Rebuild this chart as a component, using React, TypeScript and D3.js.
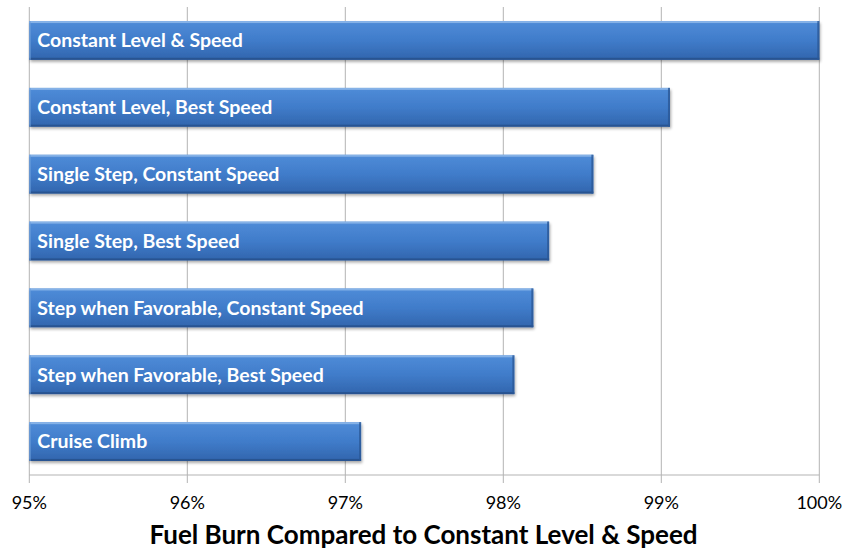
import React from "react";
import * as d3 from "d3";

const categories = [
  "Constant Level & Speed",
  "Constant Level, Best Speed",
  "Single Step, Constant Speed",
  "Single Step, Best Speed",
  "Step when Favorable, Constant Speed",
  "Step when Favorable, Best Speed",
  "Cruise Climb",
];
const values = [100, 99.055, 98.57, 98.29, 98.19, 98.07, 97.1];
const tickValues = [95, 96, 97, 98, 99, 100];
const axisTitle = "Fuel Burn Compared to Constant Level & Speed";

const W = 845;
const H = 550;
const FONT = "Lato, 'Open Sans', sans-serif";

export default function App() {
  const x = d3.scaleLinear().domain([95, 100]).range([29.3, 819.3]);
  const y = d3
    .scaleBand<string>()
    .domain(categories)
    .range([7, 475])
    .paddingInner(0.42)
    .paddingOuter(0.21);
  const axisY = 475;
  const bw = y.bandwidth();

  return (
    <svg
      width={W}
      height={H}
      style={{ position: "absolute", left: 0, top: 0, background: "#fff" }}
    >
      <defs>
        <linearGradient id="barGrad" x1="0" y1="0" x2="0" y2="1">
          <stop offset="0" stopColor="#4f8cd8" />
          <stop offset="0.5" stopColor="#407cca" />
          <stop offset="1" stopColor="#3165ad" />
        </linearGradient>
        <filter id="shadow" x="-5%" y="-20%" width="110%" height="160%">
          <feGaussianBlur in="SourceAlpha" stdDeviation="1.5" />
          <feOffset dx="1" dy="2" result="b" />
          <feComponentTransfer>
            <feFuncA type="linear" slope="0.35" />
          </feComponentTransfer>
          <feMerge>
            <feMergeNode />
            <feMergeNode in="SourceGraphic" />
          </feMerge>
        </filter>
      </defs>

      {/* gridlines */}
      {tickValues.map((t) => (
        <line
          key={"g" + t}
          x1={x(t)}
          x2={x(t)}
          y1={7}
          y2={axisY + 8}
          stroke="#b3b3b3"
          strokeWidth={1}
        />
      ))}
      {/* axis line */}
      <line
        x1={x(95)}
        x2={x(100)}
        y1={axisY}
        y2={axisY}
        stroke="#b3b3b3"
        strokeWidth={1}
      />

      {/* bars */}
      {categories.map((c, i) => {
        const y0 = y(c)!;
        const x0 = x(95);
        const x1 = x(values[i]);
        const w = x1 - x0;
        return (
          <g key={c}>
            <rect
              x={x0}
              y={y0}
              width={w}
              height={bw}
              fill="url(#barGrad)"
              filter="url(#shadow)"
            />
            <rect x={x0} y={y0} width={w} height={2} fill="#8fb8ea" opacity={0.85} />
            <rect x={x0} y={y0 + bw - 2} width={w} height={2} fill="#264f8a" opacity={0.8} />
            <rect x={x1 - 2} y={y0} width={2} height={bw} fill="#2a5796" opacity={0.8} />
            <rect x={x0} y={y0} width={1.5} height={bw} fill="#6d9fdd" opacity={0.7} />
            <text
              x={x0 + 8}
              y={y0 + bw / 2}
              dy="0.35em"
              fill="#fff"
              fontFamily={FONT}
              fontWeight={700}
              fontSize={19.5}
            >
              {c}
            </text>
          </g>
        );
      })}

      {/* tick labels */}
      {tickValues.map((t) => (
        <text
          key={"t" + t}
          x={x(t)}
          y={509}
          textAnchor="middle"
          fontFamily={FONT}
          fontSize={18}
          fill="#000"
        >
          {t + "%"}
        </text>
      ))}

      <text
        x={423.5}
        y={544}
        textAnchor="middle"
        fontFamily={FONT}
        fontWeight={700}
        fontSize={26}
        fill="#000"
      >
        {axisTitle}
      </text>
    </svg>
  );
}
